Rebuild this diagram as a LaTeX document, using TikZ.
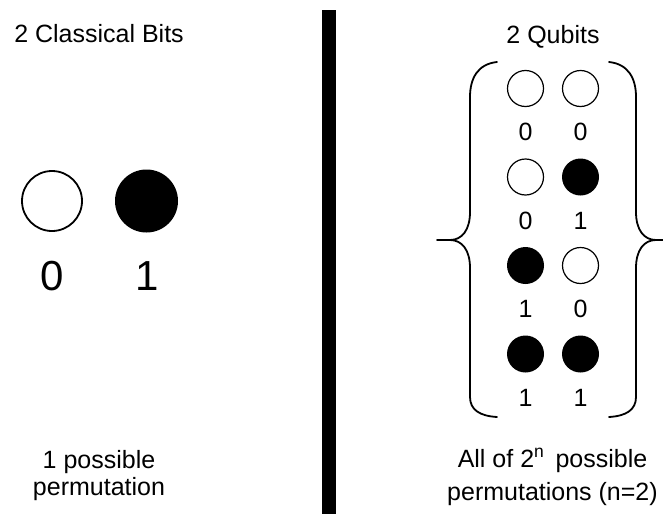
\documentclass[tikz,border=0pt]{standalone}
\usepackage{fontspec}
\setmainfont{Liberation Sans}
\tikzset{
  bitzero/.style={circle, draw, line width=1.8pt, fill=white, minimum size=60pt, inner sep=0pt},
  bitone/.style={circle, fill=black, minimum size=63pt, inner sep=0pt},
  qb0/.style={circle, draw, line width=1.2pt, fill=white, minimum size=36pt, inner sep=0pt},
  qb1/.style={circle, fill=black, minimum size=37pt, inner sep=0pt},
  txt/.style={anchor=base, inner sep=0pt, font=\fontsize{25}{30}\selectfont},
  bignum/.style={anchor=base, inner sep=0pt, font=\fontsize{42}{50}\selectfont},
}
\begin{document}
\begin{tikzpicture}[x=1pt, y=-1pt]
			\useasboundingbox (0,0) rectangle (663,514);
			\pgfmathsetmacro{\qx}{525.5}
			\pgfmathsetmacro{\qd}{55}
			\pgfmathsetmacro{\dy}{88.5}
			% classical side
			\node[txt] (cltitle) at (99,42) {2 Classical Bits};
			\node[bitzero] (bit0) at (52,201) {};
			\node[bitone] (bit1) at (146.5,201) {};
			\node[bignum] (num0) at (52,290) {0};
			\node[bignum] (num1) at (147,290) {1};
			\node[txt] (clcap1) at (99,468) {1 possible};
			\node[txt] (clcap2) at (99,495) {permutation};
			% divider
			\fill (322,10) rectangle (336,514);
			% qubit side
			\node[txt] (qutitle) at (553,43) {2 Qubits};
			\foreach \r/\a/\b in {0/0/0,1/0/1,2/1/0,3/1/1} {
				\pgfmathsetmacro{\yy}{\dy+\r*\dy}
				\node[qb\a] (q\r a) at (\qx,\yy) {};
				\node[qb\b] (q\r b) at (\qx+\qd,\yy) {};
				\node[txt] (l\r a) at (\qx,\yy+52) {\a};
				\node[txt] (l\r b) at (\qx+\qd,\yy+52) {\b};
			}
			\foreach \s/\o in {1/0,-1/1106} {
				\begin{scope}[xshift=\o pt, xscale=\s]
					\draw[line width=1.8pt, line join=round, line cap=round] (497,62) .. controls (478,64) and (470,78) .. (470,97) -- (470,212) .. controls (470,230) and (462,240) .. (450,240) -- (437,240) (450,240) .. controls (462,240) and (470,250) .. (470,268) -- (470,397) .. controls (470,410) and (480,416) .. (497,417);
				\end{scope}
			}
			\node[txt] (qucap1) at (552.5,467) {All of 2\textsuperscript{n}\, possible};
			\node[txt] (qucap2) at (552.5,500) {permutations (n=2)};
		\end{tikzpicture}
\end{document}
